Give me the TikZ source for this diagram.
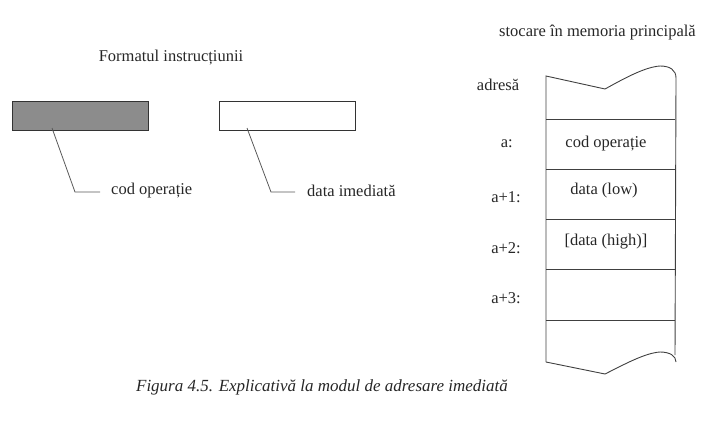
\documentclass[tikz,border=0pt]{standalone}
\usepackage{fontspec}
\setmainfont{Liberation Serif}
\usetikzlibrary{calc}
\tikzset{
  txt/.style={inner sep=0pt, font=\fontsize{16.5}{19}\selectfont, text=black!85},
  fmtbox/.style={draw=black!80, line width=0.9pt, minimum width=136pt, minimum height=29pt, inner sep=0pt},
  leader/.style={draw=black!65, line width=0.8pt},
  memline/.style={draw=black!75, line width=0.9pt}
}
\begin{document}
\begin{tikzpicture}[x=1pt,y=-1pt]
			%%%%% START %%%%%
			\useasboundingbox (0,0) rectangle (708,420);
			
			\node[txt] (title) at (171,58) {Formatul instrucțiunii};
			
			\node[fmtbox, fill=black!45] (opbox) at (80,115.5) {};
			\node[fmtbox, fill=white] (databox) at (287.5,115.5) {};
			
			\coordinate (opfoot) at (52,128);
			\coordinate (opbend) at (75,192);
			\node[txt, anchor=west] (oplabel) at (111,191) {cod operație};
			\draw[leader] (opfoot) -- (opbend) -- ($(oplabel.west)+(-11,1)$);
			
			\coordinate (datafoot) at (247,128);
			\coordinate (databend) at (271,192);
			\node[txt, anchor=west] (datalabel) at (307,191) {data imediată};
			\draw[leader] (datafoot) -- (databend) -- ($(datalabel.west)+(-12,1)$);
			
			\node[txt, anchor=west] (memtitle) at (499,33) {stocare în memoria principală};
			
			% memory column
			\draw[memline] (546,362) -- (546,76) -- (605,89) .. controls (625,78) and (645,67) .. (660,66) .. controls (670,66) and (676,70) .. (676,78) -- (675,355);
			\draw[memline] (546,362) -- (605,374) .. controls (625,364) and (645,353) .. (660,352) .. controls (670,352) and (676,356) .. (676,362);
			\foreach \y in {119,169,219,269,320}
			  \draw[memline] (546,\y) -- (675,\y);
			
			\node[txt] (adr) at (498,85) {adresă};
			\node[txt, anchor=east] (ca) at (513,144) {a:};
			\node[txt, anchor=east] (ca1) at (521,197) {a+1:};
			\node[txt, anchor=east] (ca2) at (521,248) {a+2:};
			\node[txt, anchor=east] (ca3) at (521,298) {a+3:};
			
			\node[txt] (cop) at (606,144) {cod operație};
			\node[txt] (clow) at (604,191) {data (low)};
			\node[txt] (chigh) at (606,242) {[data (high)]};
			
			\node[txt, font=\fontsize{17}{20}\selectfont\itshape] (caption) at (322,387) {Figura 4.5. Explicativă la modul de adresare imediată};
			%%%%% END %%%%%
\end{tikzpicture}
\end{document}
